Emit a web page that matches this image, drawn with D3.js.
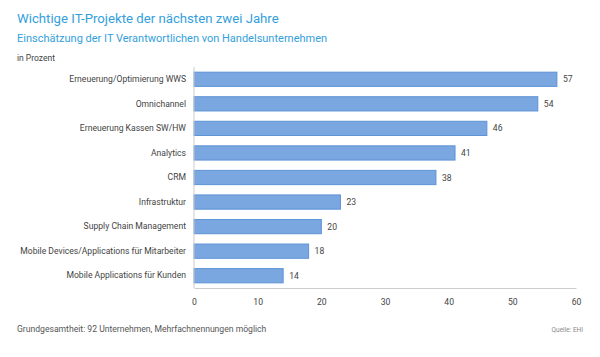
<!DOCTYPE html>
<html><head><meta charset="utf-8">
<script src="https://cdn.jsdelivr.net/npm/d3@7"></script>
<style>
body{margin:0;background:#fff;}
text{font-family:"Roboto",sans-serif;}
</style></head>
<body><svg id="c" width="600" height="357"></svg>
<script>
const categories = ["Erneuerung/Optimierung WWS","Omnichannel","Erneuerung Kassen SW/HW","Analytics","CRM","Infrastruktur","Supply Chain Management","Mobile Devices/Applications für Mitarbeiter","Mobile Applications für Kunden"];
const values = [57,54,46,41,38,23,20,18,14];
const xTicks = [0,10,20,30,40,50,60];
const title = "Wichtige IT-Projekte der nächsten zwei Jahre";
const subtitle = "Einschätzung der IT Verantwortlichen von Handelsunternehmen";
const unit = "in Prozent";
const footnote = "Grundgesamtheit: 92 Unternehmen, Mehrfachnennungen möglich";
const source = "Quelle: EHI";

const svg = d3.select("#c");
const x = d3.scaleLinear().domain([0,60]).range([194,576]);
const y = d3.scaleBand().domain(categories).range([67,288]).paddingInner(0.42).paddingOuter(0.21);

svg.append("text").attr("x",17).attr("y",23).attr("fill","#33a0dc").attr("font-size",13.2).text(title);
svg.append("text").attr("x",17).attr("y",42).attr("fill","#33a0dc").attr("font-size",11).text(subtitle);
svg.append("text").attr("x",17).attr("y",61).attr("fill","#444").attr("font-size",8.5).text(unit);

// bars
svg.append("g").selectAll("rect").data(values).join("rect")
  .attr("x",x(0)).attr("y",(d,i)=>y(categories[i]))
  .attr("width",d=>x(d)-x(0)).attr("height",y.bandwidth())
  .attr("fill","#7aa7df").attr("stroke","#5d93d6").attr("stroke-width",1);

// value labels
svg.append("g").selectAll("text").data(values).join("text")
  .attr("x",d=>x(d)+6).attr("y",(d,i)=>y(categories[i])+y.bandwidth()/2)
  .attr("dy","0.35em").attr("fill","#444").attr("font-size",8.6).text(d=>d);

// y axis
const ya = svg.append("g").attr("transform",`translate(${x(0)},0)`)
  .call(d3.axisLeft(y).tickSize(0).tickPadding(8));
ya.select(".domain").attr("stroke","#ccc").attr("d",`M0,67V288`);
ya.selectAll("text").attr("fill","#444").attr("font-size",8.6).attr("font-family",null);

// x axis
const xa = svg.append("g").attr("transform","translate(0,288)")
  .call(d3.axisBottom(x).tickValues(xTicks).tickSize(0).tickPadding(11));
xa.select(".domain").attr("stroke","#ccc");
xa.selectAll("text").attr("fill","#444").attr("font-size",8.6).attr("font-family",null);

svg.append("text").attr("x",17).attr("y",332).attr("fill","#555").attr("font-size",8.6).text(footnote);
svg.append("text").attr("x",583).attr("y",332).attr("text-anchor","end").attr("fill","#888").attr("font-size",6.5).text(source);
</script></body></html>
